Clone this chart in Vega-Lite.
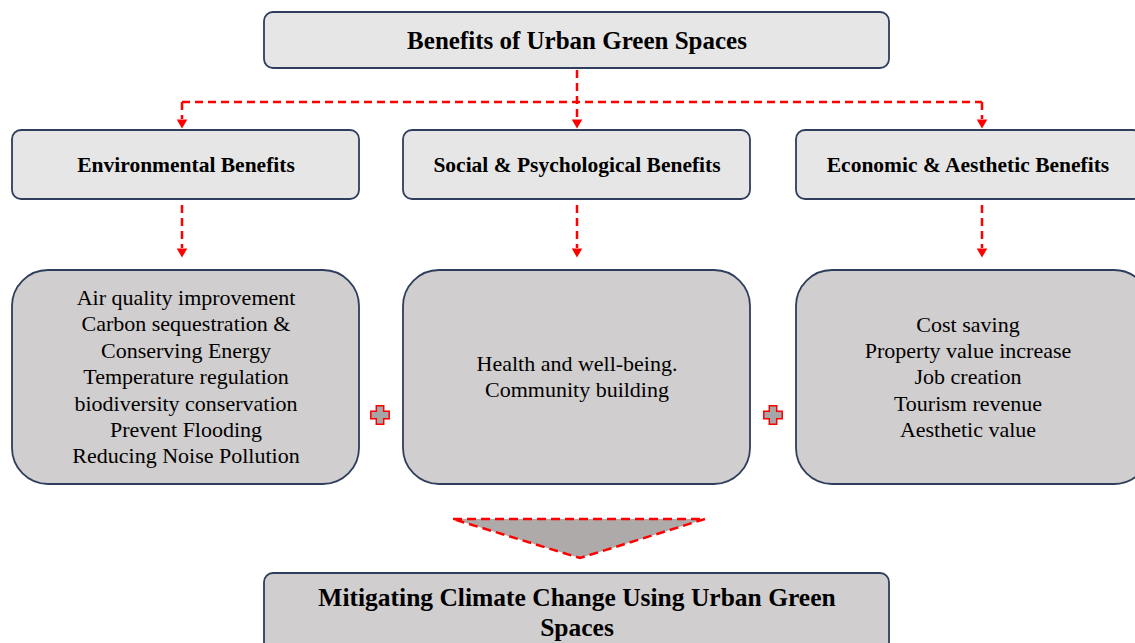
{
  "$schema": "https://vega.github.io/schema/vega-lite/v6.json",
  "width": 1135,
  "height": 643,
  "padding": 0,
  "autosize": {"type": "none"},
  "background": "white",
  "config": {"view": {"stroke": null}},
  "datasets": {
    "smallBoxes": [
      {"name": "top", "x": 264, "x2": 889, "y": 12, "y2": 68},
      {"name": "env", "x": 12, "x2": 359, "y": 130, "y2": 199},
      {"name": "soc", "x": 403, "x2": 750, "y": 130, "y2": 199},
      {"name": "eco", "x": 796, "x2": 1142, "y": 130, "y2": 199}
    ],
    "bigBoxes": [
      {"name": "envd", "x": 12, "x2": 359, "y": 270, "y2": 484},
      {"name": "socd", "x": 403, "x2": 750, "y": 270, "y2": 484},
      {"name": "ecod", "x": 796, "x2": 1150, "y": 270, "y2": 484}
    ],
    "bottomBox": [
      {"name": "bottom", "x": 264, "x2": 889, "y": 573, "y2": 660}
    ],
    "dashes": [
      {"x": 577, "y": 70, "x2": 577, "y2": 119},
      {"x": 182, "y": 102, "x2": 982, "y2": 102},
      {"x": 182, "y": 102, "x2": 182, "y2": 119},
      {"x": 982, "y": 102, "x2": 982, "y2": 119},
      {"x": 182, "y": 205, "x2": 182, "y2": 248},
      {"x": 577, "y": 205, "x2": 577, "y2": 248},
      {"x": 982, "y": 205, "x2": 982, "y2": 248}
    ],
    "arrows": [
      {"x": 182, "y": 124}, {"x": 577, "y": 124}, {"x": 982, "y": 124},
      {"x": 182, "y": 253}, {"x": 577, "y": 253}, {"x": 982, "y": 253}
    ],
    "triFill": [
      {"x": 453, "y": 519, "y2": 519},
      {"x": 580, "y": 519, "y2": 558},
      {"x": 705, "y": 519, "y2": 519}
    ],
    "triLine": [
      {"o": 1, "x": 453, "y": 519},
      {"o": 2, "x": 705, "y": 519},
      {"o": 3, "x": 580, "y": 558},
      {"o": 4, "x": 453, "y": 519}
    ],
    "plus": [
      {"x": 380, "y": 415}, {"x": 773, "y": 415}
    ],
    "boldText": [
      {"t": "Benefits of Urban  Green Spaces", "x": 577, "y": 41, "s": 25},
      {"t": "Environmental Benefits", "x": 186, "y": 166, "s": 21.5},
      {"t": "Social & Psychological Benefits", "x": 577, "y": 166, "s": 21.5},
      {"t": "Economic & Aesthetic  Benefits", "x": 968, "y": 166, "s": 21.5},
      {"t": "Mitigating Climate Change Using Urban Green", "x": 577, "y": 598, "s": 25.5},
      {"t": "Spaces", "x": 577, "y": 628, "s": 25.5}
    ],
    "bodyText": [
      {"t": "Air quality improvement", "x": 186, "y": 298},
      {"t": "Carbon sequestration &", "x": 186, "y": 324},
      {"t": "Conserving Energy", "x": 186, "y": 351},
      {"t": "Temperature regulation", "x": 186, "y": 377},
      {"t": "biodiversity conservation", "x": 186, "y": 404},
      {"t": "Prevent Flooding", "x": 186, "y": 430},
      {"t": "Reducing Noise Pollution", "x": 186, "y": 456},
      {"t": "Health and well-being.", "x": 577, "y": 364},
      {"t": "Community building", "x": 577, "y": 390},
      {"t": "Cost saving", "x": 968, "y": 325},
      {"t": "Property value increase", "x": 968, "y": 351},
      {"t": "Job creation", "x": 968, "y": 377},
      {"t": "Tourism revenue", "x": 968, "y": 404},
      {"t": "Aesthetic value", "x": 968, "y": 430}
    ]
  },
  "encoding": {},
  "layer": [
    {
      "data": {"name": "smallBoxes"},
      "mark": {"type": "rect", "cornerRadius": 9, "fill": "#e7e6e6", "stroke": "#2e3e5c", "strokeWidth": 1.8},
      "encoding": {
        "x": {"field": "x", "type": "quantitative", "scale": {"domain": [0, 1135], "range": [0, 1135]}, "axis": null},
        "x2": {"field": "x2"},
        "y": {"field": "y", "type": "quantitative", "scale": {"domain": [0, 643], "range": [0, 643]}, "axis": null},
        "y2": {"field": "y2"}
      }
    },
    {
      "data": {"name": "bigBoxes"},
      "mark": {"type": "rect", "cornerRadius": 36, "fill": "#d0cece", "stroke": "#2e3e5c", "strokeWidth": 1.8},
      "encoding": {
        "x": {"field": "x", "type": "quantitative", "scale": {"domain": [0, 1135], "range": [0, 1135]}, "axis": null},
        "x2": {"field": "x2"},
        "y": {"field": "y", "type": "quantitative", "scale": {"domain": [0, 643], "range": [0, 643]}, "axis": null},
        "y2": {"field": "y2"}
      }
    },
    {
      "data": {"name": "bottomBox"},
      "mark": {"type": "rect", "cornerRadius": 9, "fill": "#d0cece", "stroke": "#2e3e5c", "strokeWidth": 1.8},
      "encoding": {
        "x": {"field": "x", "type": "quantitative", "scale": {"domain": [0, 1135], "range": [0, 1135]}, "axis": null},
        "x2": {"field": "x2"},
        "y": {"field": "y", "type": "quantitative", "scale": {"domain": [0, 643], "range": [0, 643]}, "axis": null},
        "y2": {"field": "y2"}
      }
    },
    {
      "data": {"name": "dashes"},
      "mark": {"type": "rule", "color": "#ff0000", "strokeWidth": 2.5, "strokeDash": [8, 5]},
      "encoding": {
        "x": {"field": "x", "type": "quantitative", "scale": {"domain": [0, 1135], "range": [0, 1135]}, "axis": null},
        "x2": {"field": "x2"},
        "y": {"field": "y", "type": "quantitative", "scale": {"domain": [0, 643], "range": [0, 643]}, "axis": null},
        "y2": {"field": "y2"}
      }
    },
    {
      "data": {"name": "arrows"},
      "mark": {"type": "point", "shape": "triangle-down", "filled": true, "color": "#ff0000", "size": 110, "opacity": 1},
      "encoding": {
        "x": {"field": "x", "type": "quantitative", "scale": {"domain": [0, 1135], "range": [0, 1135]}, "axis": null},
        "y": {"field": "y", "type": "quantitative", "scale": {"domain": [0, 643], "range": [0, 643]}, "axis": null}
      }
    },
    {
      "data": {"name": "triFill"},
      "mark": {"type": "area", "color": "#aeaaaa", "opacity": 1},
      "encoding": {
        "x": {"field": "x", "type": "quantitative", "scale": {"domain": [0, 1135], "range": [0, 1135]}, "axis": null},
        "y": {"field": "y", "type": "quantitative", "scale": {"domain": [0, 643], "range": [0, 643]}, "axis": null},
        "y2": {"field": "y2"}
      }
    },
    {
      "data": {"name": "triLine"},
      "mark": {"type": "line", "color": "#ff0000", "strokeWidth": 2.5, "strokeDash": [9, 5]},
      "encoding": {
        "x": {"field": "x", "type": "quantitative", "scale": {"domain": [0, 1135], "range": [0, 1135]}, "axis": null},
        "y": {"field": "y", "type": "quantitative", "scale": {"domain": [0, 643], "range": [0, 643]}, "axis": null},
        "order": {"field": "o", "type": "quantitative"}
      }
    },
    {
      "data": {"name": "plus"},
      "mark": {"type": "point", "shape": "cross", "filled": true, "fill": "#a6a6a6", "stroke": "#ff0000", "strokeWidth": 1.5, "size": 340, "opacity": 1},
      "encoding": {
        "x": {"field": "x", "type": "quantitative", "scale": {"domain": [0, 1135], "range": [0, 1135]}, "axis": null},
        "y": {"field": "y", "type": "quantitative", "scale": {"domain": [0, 643], "range": [0, 643]}, "axis": null}
      }
    },
    {
      "data": {"name": "boldText"},
      "mark": {"type": "text", "font": "Liberation Serif", "fontWeight": "bold", "color": "#000000", "align": "center", "baseline": "middle"},
      "encoding": {
        "x": {"field": "x", "type": "quantitative", "scale": {"domain": [0, 1135], "range": [0, 1135]}, "axis": null},
        "y": {"field": "y", "type": "quantitative", "scale": {"domain": [0, 643], "range": [0, 643]}, "axis": null},
        "text": {"field": "t"},
        "size": {"field": "s", "type": "quantitative", "scale": null}
      }
    },
    {
      "data": {"name": "bodyText"},
      "mark": {"type": "text", "font": "Liberation Serif", "fontSize": 22, "color": "#000000", "align": "center", "baseline": "middle"},
      "encoding": {
        "x": {"field": "x", "type": "quantitative", "scale": {"domain": [0, 1135], "range": [0, 1135]}, "axis": null},
        "y": {"field": "y", "type": "quantitative", "scale": {"domain": [0, 643], "range": [0, 643]}, "axis": null},
        "text": {"field": "t"}
      }
    }
  ]
}
